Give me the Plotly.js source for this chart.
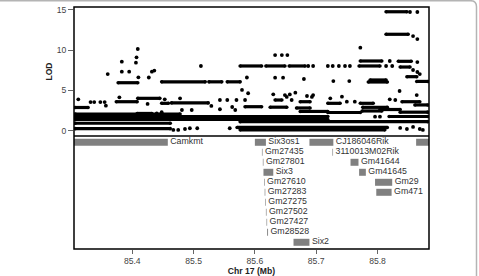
<!DOCTYPE html>
<html>
<head>
<meta charset="utf-8">
<script src="https://cdn.plot.ly/plotly-3.0.1.min.js"></script>
<style>
  html, body { margin: 0; padding: 0; background: #fff; }
  #chart { width: 479px; height: 276px; }
</style>
</head>
<body>
<div id="chart"></div>
<script>
// LOD plateaus: runs of consecutive markers sharing one LOD score (Mb, Mb, LOD)
const runStart = [85.814, 85.814, 85.772, 85.834, 85.770, 85.837, 85.576, 85.618, 85.656,
  85.377, 85.448, 85.525, 85.555, 85.785, 85.788, 85.864, 85.848,
  85.307, 85.374, 85.409, 85.408, 85.464, 85.448, 85.584, 85.625, 85.668, 85.633, 85.674,
  85.719, 85.772, 85.776, 85.840, 85.861,
  85.307, 85.819, 85.307, 85.307, 85.576, 85.307, 85.307, 85.571, 85.576, 85.674, 85.775,
  85.837, 85.804, 85.719];
const runEnd = [85.848, 85.850, 85.807, 85.855, 85.804, 85.853, 85.611, 85.649, 85.682,
  85.409, 85.519, 85.546, 85.576, 85.816, 85.814, 85.882, 85.864,
  85.328, 85.408, 85.445, 85.432, 85.524, 85.459, 85.611, 85.652, 85.690, 85.644, 85.690,
  85.739, 85.793, 85.816, 85.869, 85.882,
  85.719, 85.882, 85.719, 85.478, 85.882, 85.462, 85.462, 85.816, 85.812, 85.719, 85.807,
  85.882, 85.837, 85.772];
const runLod = [14.78, 11.98, 8.66, 8.62, 8.04, 7.91, 8.04, 8.04, 8.04,
  5.96, 6.07, 6.07, 6.07, 6.05, 6.30, 6.12, 6.71,
  2.88, 3.60, 4.02, 2.14, 3.45, 3.40, 2.98, 2.92, 2.82, 3.81, 3.60,
  3.40, 3.40, 2.90, 3.60, 3.20,
  1.76, 1.76, 1.39, 2.07, 1.12, 0.92, 0.25, 0.40, 0.10, 2.39, 2.45,
  2.30, 2.63, 2.26];

// Single markers (Mb, LOD)
const dotMb = [85.312, 85.360, 85.383, 85.406, 85.383, 85.395, 85.409, 85.407, 85.410, 85.427,
  85.432, 85.436, 85.379, 85.357, 85.425, 85.332, 85.338, 85.348, 85.355, 85.440, 85.448,
  85.453, 85.478, 85.481, 85.497, 85.529, 85.543, 85.563, 85.568, 85.543, 85.555, 85.570,
  85.584, 85.467, 85.475, 85.486, 85.494, 85.506, 85.559,
  85.512, 85.633, 85.644, 85.653, 85.587, 85.633, 85.646, 85.680, 85.579, 85.589, 85.630,
  85.649, 85.657, 85.666, 85.652, 85.660, 85.693, 85.687, 85.695,
  85.719, 85.727, 85.737, 85.747, 85.755, 85.814, 85.824, 85.820, 85.865, 85.858, 85.865,
  85.869, 85.853, 85.865, 85.858, 85.865, 85.772, 85.728, 85.754, 85.836, 85.864, 85.685,
  85.695, 85.723, 85.742, 85.750, 85.763, 85.820, 85.829, 85.796, 85.804, 85.837, 85.848,
  85.858, 85.869, 85.874];
const dotLod = [3.90, 7.04, 8.57, 8.45, 7.33, 7.33, 10.15, 9.12, 6.63, 6.61,
  7.33, 7.47, 4.15, 3.11, 3.32, 3.56, 3.56, 3.56, 3.56, 2.14, 2.29,
  3.90, 4.02, 2.57, 2.57, 3.07, 2.66, 2.94, 2.57, 3.81, 3.81, 3.81,
  3.81, 0.09, 0.09, 0.21, 0.30, 0.30, 0.30,
  8.04, 9.40, 9.40, 9.40, 6.61, 6.59, 6.59, 6.42, 5.06, 4.65, 4.52,
  4.43, 4.50, 4.72, 4.19, 3.81, 4.19, 8.04, 8.04,
  8.04, 8.04, 8.04, 8.04, 8.04, 8.04, 8.04, 8.66, 8.53, 7.54, 7.29,
  7.04, 14.75, 14.75, 11.76, 11.39, 10.31, 6.17, 6.17, 4.93, 4.43, 4.31,
  4.43, 4.02, 4.22, 3.60, 3.60, 3.90, 3.81, 1.74, 1.74, 0.34, 0.21,
  0.46, 0.21, 0.09];

// Gene annotation track (start/end in Mb, row counted from the top)
const geneName = ['Camkmt', 'Six3os1', 'CJ186046Rik', '', 'Gm27435', '3110013M02Rik',
  'Gm27801', 'Gm41644', 'Six3', 'Gm41645', 'Gm27610', 'Gm29', 'Gm27283', 'Gm471',
  'Gm27275', 'Gm27502', 'Gm27427', 'Gm28528', 'Six2'];
const geneStart = [85.200, 85.600, 85.689, 85.863, 85.6115, 85.7265,
  85.6130, 85.756, 85.614, 85.770, 85.6150, 85.796, 85.6160, 85.798,
  85.6170, 85.6180, 85.6190, 85.6200, 85.663];
const geneEnd = [85.458, 85.618, 85.728, 85.950, 85.6125, 85.7275,
  85.6140, 85.769, 85.630, 85.781, 85.6160, 85.824, 85.6170, 85.823,
  85.6180, 85.6190, 85.6200, 85.6215, 85.689];
const geneRow = [1, 1, 1, 1, 2, 2, 3, 3, 4, 4, 5, 5, 6, 6, 7, 8, 9, 10, 11];

const xTicks = [85.4, 85.5, 85.6, 85.7, 85.8];
const yTicks = [0, 5, 10, 15];

// Build segment arrays (null breaks between plateaus)
const segX = [], segY = [];
runStart.forEach((s, i) => {
  segX.push(s, runEnd[i], null);
  segY.push(runLod[i], runLod[i], null);
});

const FONT = 'Liberation Sans, Arial, sans-serif';

const traces = [
  {
    type: 'scatter', mode: 'lines+markers', x: segX, y: segY,
    xaxis: 'x', yaxis: 'y', connectgaps: false,
    line: { color: '#000', width: 3.2 },
    marker: { color: '#000', size: 3.6 },
    hoverinfo: 'skip'
  },
  {
    type: 'scatter', mode: 'markers', x: dotMb, y: dotLod,
    xaxis: 'x', yaxis: 'y',
    marker: { color: '#000', size: 3.8 },
    hoverinfo: 'skip'
  },
  {
    type: 'bar', orientation: 'h',
    base: geneStart,
    x: geneStart.map((s, i) => geneEnd[i] - s),
    y: geneRow,
    width: 0.7,
    xaxis: 'x', yaxis: 'y2',
    marker: { color: '#808080', line: { width: 0 } },
    hoverinfo: 'skip'
  },
  {
    type: 'scatter', mode: 'text',
    x: geneEnd, y: geneRow,
    text: geneName.map(n => n ? '\u00a0' + n : ''),
    textposition: 'middle right',
    textfont: { family: FONT, size: 8.8, color: '#333' },
    xaxis: 'x', yaxis: 'y2', cliponaxis: true,
    hoverinfo: 'skip'
  }
];

const split = 0.467;
const layout = {
  width: 479, height: 276,
  margin: { l: 74, r: 50, t: 7, b: 27 },
  paper_bgcolor: '#fff', plot_bgcolor: '#fff',
  showlegend: false,
  font: { family: FONT, size: 8.6, color: '#444' },
  xaxis: {
    range: [85.305, 85.884], anchor: 'y2',
    tickvals: xTicks, ticktext: xTicks.map(v => v.toFixed(1)),
    ticks: 'outside', ticklen: 4, tickwidth: 1, tickcolor: '#666',
    showgrid: false, zeroline: false, showline: false,
    tickfont: { family: FONT, size: 8.6, color: '#444' },
    title: { text: '<b>Chr 17 (Mb)</b>', font: { family: FONT, size: 8.6, color: '#222' }, standoff: 3 }
  },
  yaxis: {
    domain: [split, 1], range: [-0.66, 15.37], anchor: 'x',
    tickvals: yTicks, ticks: 'outside', ticklen: 5, tickwidth: 1, tickcolor: '#666',
    showgrid: false, zeroline: false, showline: false,
    tickfont: { family: FONT, size: 8.6, color: '#444' },
    title: { text: '<b>LOD</b>', font: { family: FONT, size: 8.6, color: '#222' }, standoff: 2 }
  },
  yaxis2: {
    domain: [0, split], range: [11.67, 0.37], anchor: 'x',
    showticklabels: false, ticks: '', showgrid: false, zeroline: false, showline: false
  },
  shapes: [
    { type: 'rect', xref: 'paper', yref: 'paper', x0: 0, x1: 1, y0: 0, y1: 1,
      line: { color: '#000', width: 1.5 } },
    { type: 'line', xref: 'paper', yref: 'paper', x0: 0, x1: 1, y0: split, y1: split,
      line: { color: '#000', width: 1.5 } },
    { type: 'path', xref: 'paper', yref: 'paper',
      path: 'M -0.21 1.026 L 1.1169 1.026 Q 1.1338 1.026 1.1338 1.0012 L 1.1338 -0.12',
      line: { color: '#b4b4b4', width: 1.5 } }
  ]
};

Plotly.newPlot('chart', traces, layout, { staticPlot: true, displayModeBar: false });
</script>
</body>
</html>
